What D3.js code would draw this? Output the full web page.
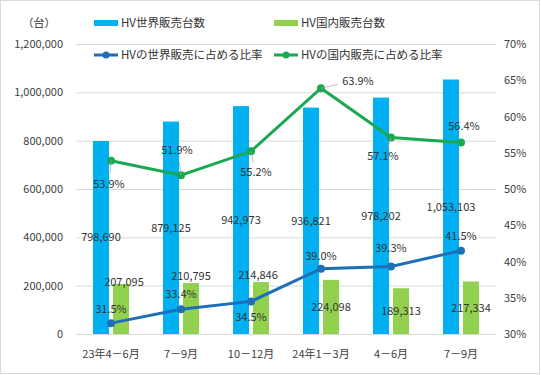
<!DOCTYPE html>
<html>
<head>
<meta charset="utf-8">
<script src="https://cdn.jsdelivr.net/npm/d3@7"></script>
<style>
  body { margin: 0; background: #fff; }
  text { font-family: "Noto Sans CJK JP", "Noto Sans", sans-serif; fill: #262626; }
  .tick text { font-size: 11px; fill: #404040; }
  .lbl { font-size: 11px; fill: #333; }
  .legend { font-size: 11.5px; fill: #333; }
</style>
</head>
<body>
<div id="chart"></div>
<script>
const categories = ["23年4－6月", "7－9月", "10－12月", "24年1－3月", "4－6月", "7－9月"];
const worldSales = [798690, 879125, 942973, 936821, 978202, 1053103];
const domesticSales = [207095, 210795, 214846, 224098, 189313, 217334];
const worldShare = [31.5, 33.4, 34.5, 39.0, 39.3, 41.5];
const domesticShare = [53.9, 51.9, 55.2, 63.9, 57.1, 56.4];
const leftTicks = [0, 200000, 400000, 600000, 800000, 1000000, 1200000];
const rightTicks = [30, 35, 40, 45, 50, 55, 60, 65, 70];

// label placement (layout, not data)
const domLabelPlace = ["end", "end", "end", "center", "center", "center"];
const domLabelNudge = [[3, 5], [0, 0], [-3, 0], [0, 0], [0, 0], [0, 0]];
const worldShareNudge = [[0, -14], [0, -15], [0, 16], [0, -13], [0, -18], [0, -14]];
const domShareNudge = [[-2, 23], [-4, -25], [5, 21], [37, -7], [-8, 19], [3, -16]];

const W = 541, H = 375;
const svg = d3.select("#chart").append("svg")
    .attr("width", W).attr("height", H);

svg.append("rect")
    .attr("x", 0.5).attr("y", 0.5)
    .attr("width", W - 2).attr("height", H - 2)
    .attr("fill", "#fff").attr("stroke", "#d9d9d9");

// categories repeat ("7－9月" twice), so the band scale works on indexes
let x = d3.scaleBand().domain(d3.range(categories.length)).range([76, 496]);
let yL = d3.scaleLinear().domain([0, 1200000]).range([334, 44]);
let yR = d3.scaleLinear().domain([30, 70]).range([334, 44]);
const cx = i => x(i) + x.bandwidth() / 2;
const fmt = d3.format(",");

// gridlines
svg.append("g")
    .selectAll("line")
    .data(leftTicks)
    .join("line")
    .attr("x1", 76).attr("x2", 496)
    .attr("y1", d => yL(d) + 0.5).attr("y2", d => yL(d) + 0.5)
    .attr("stroke", "#d9d9d9");

// axes
svg.append("g")
    .attr("transform", "translate(76,0)")
    .call(d3.axisLeft(yL).tickValues(leftTicks).tickFormat(fmt).tickSize(0).tickPadding(13))
    .call(g => g.select(".domain").remove());
svg.append("g")
    .attr("transform", "translate(496,0)")
    .call(d3.axisRight(yR).tickValues(rightTicks).tickFormat(d => d + "%").tickSize(0).tickPadding(8))
    .call(g => g.select(".domain").remove());
svg.append("g")
    .attr("transform", "translate(0,334)")
    .call(d3.axisBottom(x).tickSize(0).tickPadding(16).tickFormat(i => categories[i]))
    .call(g => g.select(".domain").remove());

svg.append("text")
    .attr("x", 39).attr("y", 27)
    .attr("text-anchor", "middle")
    .attr("class", "lbl")
    .text("（台）");

const rows = categories.map((c, i) => ({c, w: worldSales[i], d: domesticSales[i], ws: worldShare[i], ds: domesticShare[i], i}));

// bars
svg.selectAll(".barWorld")
    .data(rows)
    .join("rect")
    .attr("class", "barWorld")
    .attr("x", d => cx(d.i) - 18)
    .attr("y", d => yL(d.w))
    .attr("width", 16)
    .attr("height", d => yL(0) - yL(d.w))
    .attr("fill", "#00b0f0");

svg.selectAll(".barDom")
    .data(rows)
    .join("rect")
    .attr("class", "barDom")
    .attr("x", d => cx(d.i) + 2)
    .attr("y", d => yL(d.d))
    .attr("width", 16)
    .attr("height", d => yL(0) - yL(d.d))
    .attr("fill", "#92d050");

// lines
const lineW = d3.line().x(d => cx(d.i)).y(d => yR(d.ws));
const lineD = d3.line().x(d => cx(d.i)).y(d => yR(d.ds));
svg.append("path").datum(rows)
    .attr("d", lineW).attr("fill", "none")
    .attr("stroke", "#1f6fb8").attr("stroke-width", 3);
svg.append("path").datum(rows)
    .attr("d", lineD).attr("fill", "none")
    .attr("stroke", "#1aa853").attr("stroke-width", 3);
svg.selectAll(".ptW").data(rows).join("circle")
    .attr("cx", d => cx(d.i)).attr("cy", d => yR(d.ws)).attr("r", 4)
    .attr("fill", "#1f6fb8");
svg.selectAll(".ptD").data(rows).join("circle")
    .attr("cx", d => cx(d.i)).attr("cy", d => yR(d.ds)).attr("r", 4)
    .attr("fill", "#1aa853");

// data labels
svg.selectAll(".lblWorld").data(rows).join("text")
    .attr("class", "lbl")
    .attr("text-anchor", "middle")
    .attr("x", d => cx(d.i) - 10)
    .attr("y", d => (yL(d.w) + yL(0)) / 2)
    .attr("dy", "0.35em")
    .text(d => fmt(d.w));

svg.selectAll(".lblDom").data(rows).join("text")
    .attr("class", "lbl")
    .attr("text-anchor", "middle")
    .attr("x", d => cx(d.i) + 10 + domLabelNudge[d.i][0])
    .attr("y", d => (domLabelPlace[d.i] == "end" ? yL(d.d) - 7 : (yL(d.d) + yL(0)) / 2) + domLabelNudge[d.i][1])
    .attr("dy", "0.35em")
    .text(d => fmt(d.d));

svg.selectAll(".lblWs").data(rows).join("text")
    .attr("class", "lbl")
    .attr("text-anchor", "middle")
    .attr("x", d => cx(d.i) + worldShareNudge[d.i][0])
    .attr("y", d => yR(d.ws) + worldShareNudge[d.i][1])
    .attr("dy", "0.35em")
    .text(d => d.ws.toFixed(1) + "%");

// leader lines for the long offsets
svg.selectAll(".leader").data(rows.filter(d => Math.abs(domShareNudge[d.i][1]) > 18 || Math.abs(domShareNudge[d.i][0]) > 10))
    .join("line")
    .attr("x1", d => cx(d.i)).attr("y1", d => yR(d.ds))
    .attr("x2", d => cx(d.i) + domShareNudge[d.i][0] * 0.45)
    .attr("y2", d => yR(d.ds) + domShareNudge[d.i][1] * 0.55)
    .attr("stroke", "#a6a6a6").attr("stroke-width", 0.75);

svg.selectAll(".lblDs").data(rows).join("text")
    .attr("class", "lbl")
    .attr("text-anchor", "middle")
    .attr("x", d => cx(d.i) + domShareNudge[d.i][0])
    .attr("y", d => yR(d.ds) + domShareNudge[d.i][1])
    .attr("dy", "0.35em")
    .text(d => d.ds.toFixed(1) + "%");

// legend
const legend = svg.append("g");
legend.append("rect").attr("x", 94).attr("y", 20).attr("width", 24).attr("height", 6).attr("fill", "#00b0f0");
legend.append("text").attr("class", "legend").attr("x", 121).attr("y", 27).text("HV世界販売台数");
legend.append("rect").attr("x", 274).attr("y", 20).attr("width", 24).attr("height", 6).attr("fill", "#92d050");
legend.append("text").attr("class", "legend").attr("x", 301).attr("y", 27).text("HV国内販売台数");

legend.append("line").attr("x1", 94).attr("x2", 118).attr("y1", 55).attr("y2", 55)
    .attr("stroke", "#1f6fb8").attr("stroke-width", 3);
legend.append("circle").attr("cx", 106).attr("cy", 55).attr("r", 3.5).attr("fill", "#1f6fb8");
legend.append("text").attr("class", "legend").attr("x", 121).attr("y", 59).text("HVの世界販売に占める比率");
legend.append("line").attr("x1", 274).attr("x2", 298).attr("y1", 55).attr("y2", 55)
    .attr("stroke", "#1aa853").attr("stroke-width", 3);
legend.append("circle").attr("cx", 286).attr("cy", 55).attr("r", 3.5).attr("fill", "#1aa853");
legend.append("text").attr("class", "legend").attr("x", 301).attr("y", 59).text("HVの国内販売に占める比率");
</script>
</body>
</html>
